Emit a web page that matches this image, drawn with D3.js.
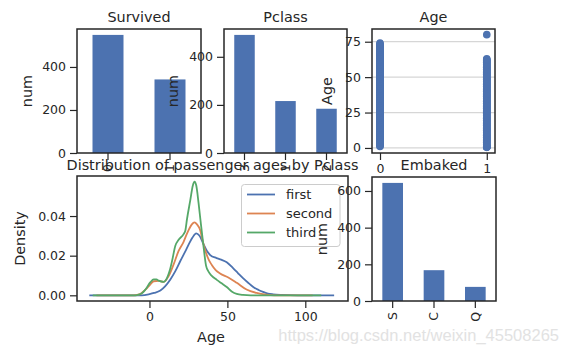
<!DOCTYPE html>
<html>
<head>
<meta charset="utf-8">
<script src="https://cdn.jsdelivr.net/npm/d3@7"></script>
<style>
html,body{margin:0;padding:0;background:#fff;}
svg{display:block;}
text{font-family:"DejaVu Sans",sans-serif;fill:#262626;}
</style>
</head>
<body>
<script>
// ---------------- data ----------------
const survivedCats = ["0", "1"];
const survivedCounts = [549, 342];
const pclassCats = ["3", "1", "2"];
const pclassCounts = [491, 216, 184];
const embarkedCats = ["S", "C", "Q"];
const embarkedCounts = [644, 168, 77];

const agesDied = [1,1.5,2,2.5,3,3.5,4,4.5,5,5.5,6,6.5,7,7.5,8,8.5,9,9.5,10,10.5,11,11.5,12,12.5,13,13.5,14,14.5,15,15.5,16,16.5,17,17.5,18,18.5,19,19.5,20,20.5,21,21.5,22,22.5,23,23.5,24,24.5,25,25.5,26,26.5,27,27.5,28,28.5,29,29.5,30,30.5,31,31.5,32,32.5,33,33.5,34,34.5,35,35.5,36,36.5,37,37.5,38,38.5,39,39.5,40,40.5,41,41.5,42,42.5,43,43.5,44,44.5,45,45.5,46,46.5,47,47.5,48,48.5,49,49.5,50,50.5,51,51.5,52,52.5,53,53.5,54,54.5,55,55.5,56,56.5,57,57.5,58,58.5,59,59.5,60,60.5,61,61.5,62,62.5,63,63.5,64,64.5,65,65.5,66,66.5,67,67.5,68,68.5,69,69.5,70,70.5,71,71.5,72,72.5,73,73.5,74];
const agesSurvived = [0.42,0.67,0.75,0.83,0.92,1,1.5,2,2.5,3,3.5,4,4.5,5,5.5,6,6.5,7,7.5,8,8.5,9,9.5,10,10.5,11,11.5,12,12.5,13,13.5,14,14.5,15,15.5,16,16.5,17,17.5,18,18.5,19,19.5,20,20.5,21,21.5,22,22.5,23,23.5,24,24.5,25,25.5,26,26.5,27,27.5,28,28.5,29,29.5,30,30.5,31,31.5,32,32.5,33,33.5,34,34.5,35,35.5,36,36.5,37,37.5,38,38.5,39,39.5,40,40.5,41,41.5,42,42.5,43,43.5,44,44.5,45,45.5,46,46.5,47,47.5,48,48.5,49,49.5,50,50.5,51,51.5,52,52.5,53,53.5,54,54.5,55,55.5,56,56.5,57,57.5,58,58.5,59,59.5,60,60.5,61,61.5,62,62.5,63,80];

const classNames = ["first", "second", "third"];
const densityFirst = [[-38.6,0],[-5,0],[0,0.0006],[3,0.0012],[7,0.0024],[10,0.0045],[13.4,0.008],[16.6,0.0122],[19.8,0.0173],[23,0.0222],[25.5,0.0262],[27.5,0.029],[30,0.0313],[32,0.0302],[34.7,0.0258],[37,0.0222],[39,0.0203],[43,0.0188],[46,0.018],[49.6,0.0167],[53.8,0.0136],[57,0.011],[60.2,0.0085],[63.5,0.0062],[66.6,0.0042],[70,0.0027],[72.9,0.0017],[76,0.0009],[79.3,0.0005],[85,0.0002],[95,0],[118.5,0]];
const densitySecond = [[-34,0],[-10,0],[-6,0.0006],[-3.6,0.0021],[-0.4,0.0046],[2.7,0.0071],[5.9,0.0073],[9.1,0.0068],[12.3,0.0097],[15.5,0.0156],[18.7,0.0224],[21.9,0.027],[24,0.031],[25.5,0.0335],[27.2,0.0358],[28.9,0.0368],[30.5,0.0358],[32.5,0.033],[34,0.028],[35.7,0.0229],[38,0.018],[40,0.0153],[42.5,0.0127],[45.3,0.011],[50.6,0.009],[56,0.0063],[62.3,0.0029],[68.7,0.0012],[75,0.0003],[80,0],[104.7,0]];
const densityThird = [[-36.4,0],[-9,0],[-6.8,0.0003],[-4.5,0.0012],[-2.6,0.0029],[0.6,0.0066],[2.7,0.008],[4.5,0.008],[5.9,0.0074],[9.1,0.0068],[11.3,0.0088],[13,0.0125],[14.5,0.0173],[16.6,0.025],[18.7,0.028],[21.9,0.0309],[23,0.0326],[24.1,0.0385],[26.2,0.048],[27.8,0.0553],[28.9,0.0573],[30,0.0555],[31.5,0.0466],[33,0.036],[34.7,0.0246],[36.3,0.015],[38,0.0118],[40,0.0098],[43.2,0.0078],[46,0.0062],[49.6,0.0042],[53,0.0018],[56,0.0007],[60,0.0002],[65,0],[110.2,0]];

const countTicksA = [0, 200, 400];
const countTicksB = [0, 200, 400, 600];
const ageYTicks = [0, 25, 50, 75];
const ageXTicks = [0, 1];
const densityXTicks = [0, 50, 100];
const densityYTicks = [0, 0.02, 0.04];

// ---------------- style ----------------
const W = 568, H = 355;
const ink = "#262626";
const blue = "#4c72b0", orange = "#dd8452", green = "#55a868";
const tickFont = 12.5, labelFont = 14.4, titleFont = 14.4, legendFont = 13;
const tickLen = 7, tickPad = 4;

const svg = d3.select("body").append("svg").attr("width", W).attr("height", H);

function styleAxis(g, rotate) {
  g.select(".domain").remove();
  g.selectAll(".tick line").attr("stroke", ink).attr("stroke-width", 1.2);
  g.selectAll(".tick text").attr("font-size", tickFont).attr("fill", ink)
    .style("font-family", "DejaVu Sans");
  if (rotate) {
    g.selectAll(".tick text")
      .attr("transform", "rotate(-90)")
      .attr("x", -(tickLen + tickPad)).attr("y", 0)
      .attr("dy", "0.35em").attr("text-anchor", "end");
  }
}

function frame(r) {
  svg.append("rect").attr("x", r.x0).attr("y", r.y0)
    .attr("width", r.x1 - r.x0).attr("height", r.y1 - r.y0)
    .attr("fill", "none").attr("stroke", ink).attr("stroke-width", 1.5);
}

function title(r, t, dy) {
  svg.append("text").attr("x", (r.x0 + r.x1) / 2).attr("y", r.y0 - (dy || 7))
    .attr("text-anchor", "middle").attr("font-size", titleFont).text(t);
}

function ylabel(r, t, off) {
  const cy = (r.y0 + r.y1) / 2;
  svg.append("text").attr("transform", `translate(${r.x0 - off},${cy}) rotate(-90)`)
    .attr("text-anchor", "middle").attr("dy", "0.35em")
    .attr("font-size", labelFont).text(t);
}

function barPanel(r, cats, counts, yTicks, ttl, labOff) {
  const x = d3.scaleBand().domain(cats).range([r.x0, r.x1]).paddingInner(0.5).paddingOuter(0.25);
  const y = d3.scaleLinear().domain([0, d3.max(counts) * 1.05]).range([r.y1, r.y0]);
  svg.append("g").selectAll("rect").data(cats).join("rect")
    .attr("x", d => x(d)).attr("width", x.bandwidth())
    .attr("y", (d, i) => y(counts[i])).attr("height", (d, i) => y(0) - y(counts[i]))
    .attr("fill", blue);
  const gy = svg.append("g").attr("transform", `translate(${r.x0},0)`)
    .call(d3.axisLeft(y).tickValues(yTicks).tickSize(tickLen).tickPadding(tickPad).tickFormat(d3.format("d")));
  styleAxis(gy);
  const gx = svg.append("g").attr("transform", `translate(0,${r.y1})`)
    .call(d3.axisBottom(x).tickSize(tickLen).tickPadding(tickPad));
  styleAxis(gx, true);
  frame(r);
  title(r, ttl);
  ylabel(r, "num", labOff);
}

// ---------------- layout ----------------
const rSurv = {x0: 77, x1: 201, y0: 29, y1: 153};
const rPcl = {x0: 224, x1: 347, y0: 29, y1: 153};
const rAge = {x0: 372, x1: 495, y0: 29, y1: 153};
const rDen = {x0: 77, x1: 348, y0: 176, y1: 301};
const rEmb = {x0: 372, x1: 496, y0: 177, y1: 301};

// watermark (behind everything)
svg.append("text").attr("x", 559).attr("y", 341).attr("text-anchor", "end")
  .attr("font-size", 16.5).style("font-family", "Arial, 'Liberation Sans', sans-serif")
  .style("fill", "#e2e2e2").text("https://blog.csdn.net/weixin_45508265");

// top row
barPanel(rSurv, survivedCats, survivedCounts, countTicksA, "Survived", 50);
barPanel(rPcl, pclassCats, pclassCounts, countTicksA, "Pclass", 51);

// Age scatter
{
  const r = rAge;
  const x = d3.scaleLinear().domain([-0.075, 1.077]).range([r.x0, r.x1]);
  const y = d3.scaleLinear().domain([-3.56, 83.98]).range([r.y1, r.y0]);
  svg.append("g").selectAll("line").data(ageYTicks).join("line")
    .attr("x1", r.x0).attr("x2", r.x1).attr("y1", d => y(d)).attr("y2", d => y(d))
    .attr("stroke", "#d6d6d6").attr("stroke-width", 1.2);
  const pts = agesDied.map(a => [0, a]).concat(agesSurvived.map(a => [1, a]));
  svg.append("g").selectAll("circle").data(pts).join("circle")
    .attr("cx", d => x(d[0])).attr("cy", d => y(d[1])).attr("r", 3.8)
    .attr("fill", blue);
  const gy = svg.append("g").attr("transform", `translate(${r.x0},0)`)
    .call(d3.axisLeft(y).tickValues(ageYTicks).tickSize(tickLen).tickPadding(tickPad).tickFormat(d3.format("d")));
  styleAxis(gy);
  const gx = svg.append("g").attr("transform", `translate(0,${r.y1})`)
    .call(d3.axisBottom(x).tickValues(ageXTicks).tickSize(tickLen).tickPadding(tickPad).tickFormat(d3.format("d")));
  styleAxis(gx);
  frame(r);
  title(r, "Age");
  ylabel(r, "Age", 45);
}

// Density panel
{
  const r = rDen;
  const x = d3.scaleLinear().domain([-46.5, 127.4]).range([r.x0, r.x1]);
  const y = d3.scaleLinear().domain([-0.00287, 0.0602]).range([r.y1, r.y0]);
  const series = [densityFirst, densitySecond, densityThird];
  const colors = [blue, orange, green];
  const line = d3.line().x(d => x(d[0])).y(d => y(d[1])).curve(d3.curveMonotoneX);
  svg.append("g").selectAll("path").data(series).join("path")
    .attr("d", line).attr("fill", "none")
    .attr("stroke", (d, i) => colors[i]).attr("stroke-width", 1.8);
  const gy = svg.append("g").attr("transform", `translate(${r.x0},0)`)
    .call(d3.axisLeft(y).tickValues(densityYTicks).tickSize(tickLen).tickPadding(tickPad).tickFormat(d3.format(".2f")));
  styleAxis(gy);
  const gx = svg.append("g").attr("transform", `translate(0,${r.y1})`)
    .call(d3.axisBottom(x).tickValues(densityXTicks).tickSize(tickLen).tickPadding(tickPad).tickFormat(d3.format("d")));
  styleAxis(gx);
  frame(r);
  title(r, "Distribution of passenger ages by Pclass", 6);
  ylabel(r, "Density", 57);
  svg.append("text").attr("x", 211).attr("y", 342).attr("text-anchor", "middle")
    .attr("font-size", labelFont).text("Age");
  // legend
  const lg = svg.append("g");
  lg.append("rect").attr("x", 241.5).attr("y", 184.5).attr("width", 98.5).attr("height", 62)
    .attr("rx", 3).attr("fill", "#fff").attr("fill-opacity", 0.8)
    .attr("stroke", "#cccccc").attr("stroke-width", 1);
  classNames.forEach((n, i) => {
    const yy = 194.5 + i * 19;
    lg.append("line").attr("x1", 247).attr("x2", 275).attr("y1", yy).attr("y2", yy)
      .attr("stroke", colors[i]).attr("stroke-width", 1.8);
    lg.append("text").attr("x", 286).attr("y", yy).attr("dy", "0.35em")
      .attr("font-size", legendFont).text(n);
  });
}

// Embarked
barPanel(rEmb, embarkedCats, embarkedCounts, countTicksB, "Embaked", 50);
</script>
</body>
</html>
